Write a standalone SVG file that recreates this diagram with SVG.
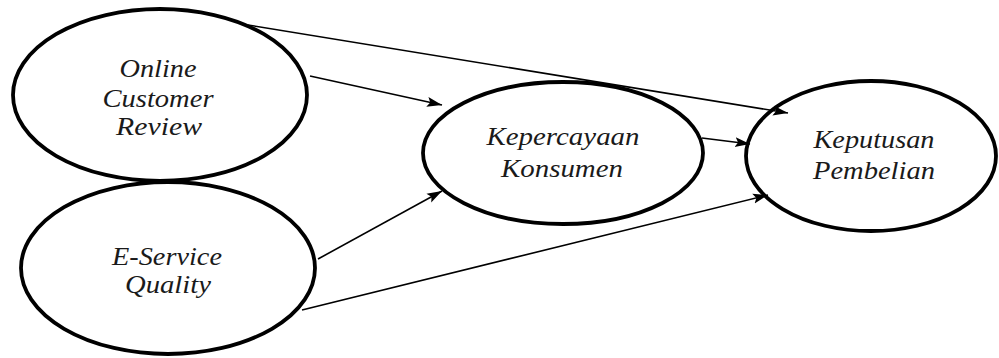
<svg xmlns="http://www.w3.org/2000/svg" width="999" height="358" viewBox="0 0 999 358">
<style>
.node ellipse{fill:#fff;stroke:#000;stroke-width:3.8}
.lbl{font-family:"Liberation Serif","Times New Roman",serif;font-style:italic;font-size:25px;fill:#1a1a1a;text-anchor:middle}
.edge{stroke:#000;stroke-width:1.6;fill:none;marker-end:url(#ah)}
</style>
<defs>
<marker id="ah" markerUnits="userSpaceOnUse" markerWidth="16" markerHeight="12" refX="15" refY="6" orient="auto">
<path d="M0,1 L15,6 L0,11 L3,6 Z" fill="#000"/>
</marker>
</defs>
<rect width="999" height="358" fill="#fff"/>
<g id="n-ocr" class="node">
<ellipse cx="160" cy="95" rx="147" ry="86"/>
<text class="lbl" x="158" y="77" textLength="77" lengthAdjust="spacingAndGlyphs">Online</text>
<text class="lbl" x="158" y="107" textLength="111" lengthAdjust="spacingAndGlyphs">Customer</text>
<text class="lbl" x="159" y="135" textLength="86" lengthAdjust="spacingAndGlyphs">Review</text>
</g>
<g id="n-esq" class="node">
<ellipse cx="168" cy="268" rx="147" ry="86"/>
<text class="lbl" x="167" y="265" textLength="110" lengthAdjust="spacingAndGlyphs">E-Service</text>
<text class="lbl" x="168" y="293" textLength="86" lengthAdjust="spacingAndGlyphs">Quality</text>
</g>
<g id="n-kk" class="node">
<ellipse cx="563" cy="153" rx="140" ry="71"/>
<text class="lbl" x="563" y="145" textLength="153" lengthAdjust="spacingAndGlyphs">Kepercayaan</text>
<text class="lbl" x="562" y="177" textLength="122" lengthAdjust="spacingAndGlyphs">Konsumen</text>
</g>
<g id="n-kp" class="node">
<ellipse cx="871" cy="156" rx="125" ry="75"/>
<text class="lbl" x="874" y="148" textLength="121" lengthAdjust="spacingAndGlyphs">Keputusan</text>
<text class="lbl" x="874" y="179" textLength="122" lengthAdjust="spacingAndGlyphs">Pembelian</text>
</g>
<g id="connectors">
<line class="edge" x1="248" y1="25" x2="788" y2="113"/>
<line class="edge" x1="310" y1="76" x2="442" y2="105"/>
<line class="edge" x1="318" y1="259" x2="442" y2="191"/>
<line class="edge" x1="302" y1="310" x2="768" y2="195"/>
<line class="edge" x1="702" y1="138" x2="750" y2="144"/>
</g>
</svg>
